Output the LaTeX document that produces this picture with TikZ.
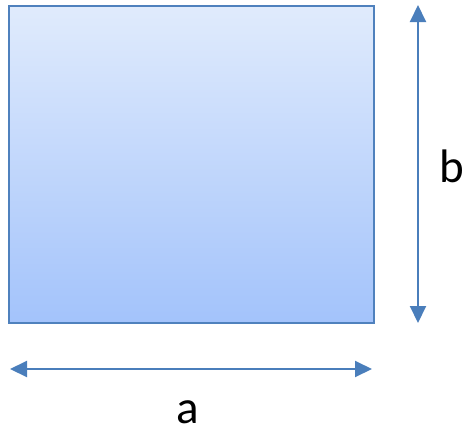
\documentclass[tikz,border=0pt]{standalone}
\usepackage{fontspec}
\setmainfont{Carlito}
\usetikzlibrary{arrows.meta}
\definecolor{boxline}{HTML}{4F81BD}
\definecolor{arrowc}{HTML}{4A7EBB}
\definecolor{topc}{HTML}{E0EBFC}
\definecolor{botc}{HTML}{A3C3FB}
\tikzset{
  dim/.style={draw=arrowc, line width=2pt, {Triangle[length=17pt,width=16pt]}-{Triangle[length=17pt,width=16pt]}},
  lbl/.style={font=\fontsize{47}{56}\selectfont, inner sep=0pt, anchor=base}
}
\begin{document}
\begin{tikzpicture}[x=1pt,y=-1pt]
\useasboundingbox (0,0) rectangle (464,432);
\shade[top color=topc, bottom color=botc] (9,6) rectangle (374,323);
\draw[boxline, line width=2pt] (9,6) rectangle (374,323);
\coordinate (vt) at (418,5);
\coordinate (vb) at (418,323);
\coordinate (hl) at (10,369);
\coordinate (hr) at (372,369);
\draw[dim] (vt) -- (vb);
\draw[dim] (hl) -- (hr);
\node[lbl] (a) at (188,423) {a};
\node[lbl] (b) at (452,182) {b};
\end{tikzpicture}
\end{document}
